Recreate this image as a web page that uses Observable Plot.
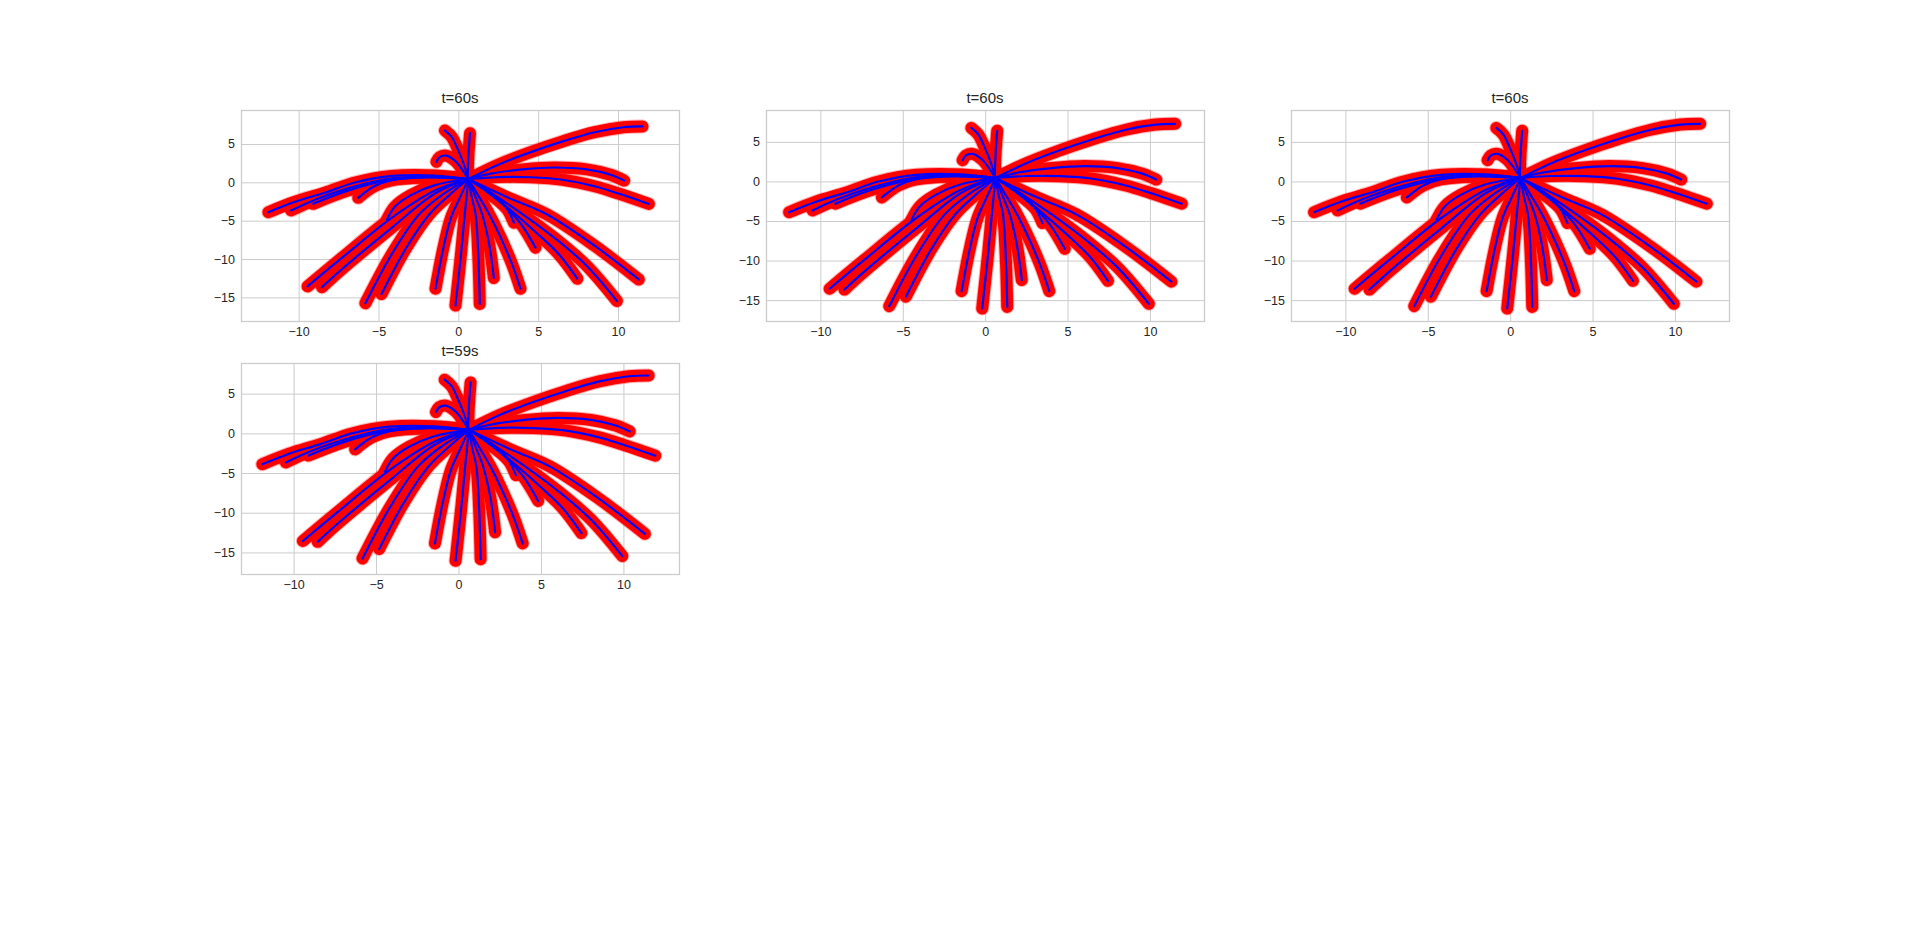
<!DOCTYPE html>
<html>
<head>
<meta charset="utf-8">
<script src="https://cdn.jsdelivr.net/npm/d3@7"></script>
<script src="https://cdn.jsdelivr.net/npm/@observablehq/plot@0.6"></script>
<style>
  html, body { margin: 0; padding: 0; background: #ffffff; overflow: hidden; }
  #page { position: relative; width: 1920px; height: 927px; background: #ffffff; }
  .panel { position: absolute; }
  .title { position: absolute; text-align: center; font-family: "Liberation Sans", Arial, sans-serif;
           font-size: 15px; line-height: 17px; height: 17px; color: #262626; white-space: nowrap; }
</style>
</head>
<body>
<div id="page"></div>
<script>
// ---------------- data ----------------
const panelTitles = ["t=60s", "t=60s", "t=60s", "t=59s"];
const xTicks = [-10, -5, 0, 5, 10];
const yTicks = [-15, -10, -5, 0, 5];

// trajectories: [x, y] samples read along each path
const T01 = [[0.6,0.5],[2.5,2.4],[4.5,4.0],[6.5,5.4],[8.5,6.6],[10.3,7.25],[11.5,7.35]];
const T02 = [[0.6,0.5],[2,1.2],[4,1.75],[6,2.0],[8,1.75],[9.5,1.05],[10.35,0.3]];
const T03 = [[0.6,0.5],[2.5,0.75],[4.5,0.73],[6.5,0.4],[8.5,-0.45],[10,-1.4],[11.9,-2.75]];
const T04 = [[0.6,0.5],[3,-1.85],[5.5,-4.1],[8.5,-8.2],[11.27,-12.6]];
const T05 = [[0.6,0.5],[2,-1.3],[4,-4.1],[6,-7.2],[8,-10.8],[9.9,-15.4]];
const T06 = [[0.6,0.5],[1.8,-1.2],[3.2,-3.5],[4.9,-6.6],[6.3,-9.4],[7.42,-12.5]];
const T07 = [[0.6,0.5],[1.6,-0.9],[2.8,-2.9],[3.9,-5.4],[4.8,-8.45]];
const T08 = [[0.6,0.5],[1.5,-0.6],[2.4,-1.9],[3.0,-3.3],[3.45,-5.2]];
const T09 = [[0.6,0.5],[1.2,-1.6],[1.9,-4.1],[2.7,-7.5],[3.35,-10.7],[3.86,-13.8]];
const T10 = [[0.6,0.5],[1.0,-1.6],[1.46,-4.1],[1.9,-8.0],[2.19,-12.4]];
const T11 = [[0.6,0.5],[0.8,-1.8],[1.05,-4.1],[1.22,-9.5],[1.31,-15.8]];
const T12 = [[0.6,0.5],[0.4,-3.5],[0.15,-9],[-0.21,-16]];
const T13 = [[0.6,0.5],[0.05,-2],[-0.5,-4.6],[-1.0,-8.8],[-1.46,-13.8]];
const T14 = [[0.6,0.5],[-0.6,-1.6],[-1.86,-4.13],[-3.3,-8.5],[-4.84,-14.5]];
const T15 = [[0.6,0.5],[-1.0,-1.5],[-2.5,-4.13],[-4.2,-9.3],[-5.85,-15.7]];
const T16 = [[0.6,0.5],[-1.5,-1.4],[-4.21,-5.87],[-7.35,-11.3],[-8.57,-13.6]];
const T17 = [[0.6,0.5],[-1.5,-1.0],[-4.21,-4.56],[-7.35,-9.83],[-9.47,-13.5]];
const T18 = [[0.6,0.5],[-1.5,0.95],[-4.2,0.9],[-6.5,0.05],[-8.4,-1.3],[-10.3,-2.5],[-11.93,-3.83]];
const T19 = [[0.6,0.5],[-2,0.85],[-4.5,0.5],[-7,-0.75],[-9,-2.2],[-10.5,-3.6]];
const T20 = [[0.6,0.5],[-2,0.75],[-4.5,0.3],[-7,-1.05],[-9.12,-2.74]];
const T21 = [[0.6,0.5],[-2,0.7],[-4.2,0.35],[-5.3,-0.45],[-6.3,-1.96]];
const T22 = [[0.6,0.5],[0.25,1.6],[-0.2,2.8],[-0.8,3.55],[-1.2,3.35],[-1.4,2.75]];
const T23 = [[0.6,0.5],[0.3,2.5],[-0.05,4.3],[-0.45,6.0],[-0.87,6.82]];
const T24 = [[0.55,0.5],[0.6,3.5],[0.7,6.47]];
const T25 = [[0.6,0.5],[-1.5,-0.3],[-3,-1.6],[-4,-3.1],[-4.5,-4.8]];

const trajectories = [T01,T02,T03,T04,T05,T06,T07,T08,T09,T10,T11,T12,T13,T14,T15,T16,T17,T18,T19,T20,T21,T22,T23,T24,T25];

// axis domains of each panel
const xDomains = [[-13.61, 13.82], [-13.3, 13.28], [-13.3, 13.28], [-13.19, 13.37]];
const yDomains = [[-18.08, 9.43], [-17.64, 9.03], [-17.64, 9.03], [-17.72, 8.86]];

// ---------------- layout ----------------
const frames = [
  {left: 241, top: 110, w: 438, h: 211, titleTop: 89},
  {left: 766, top: 110, w: 438, h: 211, titleTop: 89},
  {left: 1291, top: 110, w: 438, h: 211, titleTop: 89},
  {left: 241, top: 363, w: 438, h: 211, titleTop: 341.5}
];
const ML = 44, MR = 6, MT = 6, MB = 28;

const rows = [];
trajectories.forEach((tr, i) => tr.forEach(([x, y], k) => rows.push({id: i, k, x, y})));

const fmt = d => d < 0 ? "\u2212" + (-d) : String(d);
const page = document.getElementById("page");

frames.forEach((f, p) => {
  const chart = Plot.plot({
    width: f.w + ML + MR,
    height: f.h + MT + MB,
    marginLeft: ML, marginRight: MR, marginTop: MT, marginBottom: MB,
    x: {domain: xDomains[p], label: null},
    y: {domain: yDomains[p], label: null},
    style: {fontFamily: '"Liberation Sans", Arial, sans-serif', fontSize: "12.5px", color: "#262626", background: "#ffffff", overflow: "visible"},
    marks: [
      Plot.gridX(xTicks, {stroke: "#cccccc", strokeOpacity: 1, strokeWidth: 1}),
      Plot.gridY(yTicks, {stroke: "#cccccc", strokeOpacity: 1, strokeWidth: 1}),
      Plot.frame({stroke: "#cccccc", strokeWidth: 1.3}),
      Plot.axisX(xTicks, {tickSize: 0, tickPadding: 6, tickFormat: fmt, label: null, fill: "#262626"}),
      Plot.axisY(yTicks, {tickSize: 0, tickPadding: 6.5, tickFormat: fmt, label: null, fill: "#262626"}),
      Plot.line(rows, {x: "x", y: "y", z: "id", stroke: "#ff0000", strokeOpacity: 0.3, strokeWidth: 14,
                       strokeLinecap: "round", strokeLinejoin: "round", curve: "catmull-rom"}),
      Plot.line(rows, {x: "x", y: "y", z: "id", stroke: "#ff0000", strokeWidth: 12,
                       strokeLinecap: "round", strokeLinejoin: "round", curve: "catmull-rom"}),
      Plot.line(rows, {x: "x", y: "y", z: "id", stroke: "#0000ff", strokeWidth: 2.2,
                       strokeLinecap: "round", strokeLinejoin: "round", curve: "catmull-rom"})
    ]
  });
  chart.classList.add("panel");
  chart.style.left = (f.left - ML) + "px";
  chart.style.top = (f.top - MT) + "px";
  page.appendChild(chart);

  const t = document.createElement("div");
  t.className = "title";
  t.textContent = panelTitles[p];
  t.style.left = f.left + "px";
  t.style.width = f.w + "px";
  t.style.top = f.titleTop + "px";
  page.appendChild(t);
});
</script>
</body>
</html>
